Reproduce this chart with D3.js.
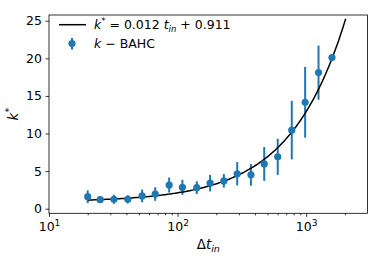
<!DOCTYPE html>
<html>
<head>
<meta charset="utf-8">
<script src="https://cdn.jsdelivr.net/npm/d3@7"></script>
<style>
  body { margin: 0; background: #fff; }
  text { font-family: "DejaVu Sans", sans-serif; fill: #000; }
</style>
</head>
<body>
<svg id="chart"></svg>
<script>
const W = 374, H = 259;
const margin = { top: 15, right: 6.5, bottom: 45.7, left: 49 };

// data
const dt = [20, 25, 32, 41, 53, 67, 86, 109, 141, 179, 229, 291, 372, 472, 601, 773, 982, 1248, 1588];
const kVal = [1.6, 1.2, 1.25, 1.25, 1.7, 1.95, 3.15, 2.85, 2.8, 3.4, 3.7, 4.65, 4.5, 5.95, 6.9, 10.45, 14.15, 18.1, 20.1];
const kErr = [0.85, 0.4, 0.6, 0.55, 0.85, 0.9, 1.0, 1.0, 0.85, 1.1, 0.9, 1.55, 1.45, 2.25, 2.4, 3.9, 4.7, 3.6, 0];
const fitSlope = 0.012, fitIntercept = 0.911;
const fitRange = [20, 2030];
const yTicks = [0, 5, 10, 15, 20, 25];
const xTicks = [10, 100, 1000];
const xDomain = [10, 3000];
const yDomain = [-0.61, 25.76];

const blue = "#1f77b4";

const svg = d3.select("#chart")
    .attr("width", W)
    .attr("height", H);

const x = d3.scaleLog()
    .domain(xDomain)
    .range([margin.left, W - margin.right]);

const y = d3.scaleLinear()
    .domain(yDomain)
    .range([H - margin.bottom, margin.top]);

// fit line, sampled evenly in log space
const fitPts = d3.range(0, 201).map(i => {
    const lx = Math.log10(fitRange[0]) + (Math.log10(fitRange[1]) - Math.log10(fitRange[0])) * i / 200;
    const t = Math.pow(10, lx);
    return [t, fitSlope * t + fitIntercept];
});

const plot = svg.append("g");

// error bars
plot.selectAll("line.err")
    .data(dt)
    .join("line")
    .attr("class", "err")
    .attr("x1", d => x(d))
    .attr("x2", d => x(d))
    .attr("y1", (d, i) => y(kVal[i] - kErr[i]))
    .attr("y2", (d, i) => y(kVal[i] + kErr[i]))
    .attr("stroke", blue)
    .attr("stroke-width", 2);

plot.append("path")
    .datum(fitPts)
    .attr("d", d3.line().x(d => x(d[0])).y(d => y(d[1])))
    .attr("fill", "none")
    .attr("stroke", "#000")
    .attr("stroke-width", 1.5);

plot.selectAll("circle.pt")
    .data(dt)
    .join("circle")
    .attr("class", "pt")
    .attr("cx", d => x(d))
    .attr("cy", (d, i) => y(kVal[i]))
    .attr("r", 3.6)
    .attr("fill", blue);

// axes
const xAxis = svg.append("g")
    .attr("transform", `translate(0,${H - margin.bottom})`)
    .call(d3.axisBottom(x).tickValues(xTicks).tickSize(3.5).tickPadding(3).tickFormat(""));

// minor ticks
const minor = [];
[10, 100, 1000].forEach(dec => { for (let m = 2; m <= 9; m++) if (dec * m < xDomain[1]) minor.push(dec * m); });
svg.append("g")
    .attr("transform", `translate(0,${H - margin.bottom})`)
    .call(d3.axisBottom(x).tickValues(minor).tickSize(2).tickFormat(""))
    .call(g => g.select(".domain").remove());

xAxis.selectAll(".tick").append("text")
    .attr("y", 17.5)
    .attr("text-anchor", "middle")
    .attr("font-size", 12.5)
    .each(function(d) {
        const t = d3.select(this);
        t.append("tspan").text("10");
        t.append("tspan").attr("dy", -5).attr("font-size", 9).text(Math.round(Math.log10(d)));
    });

const yAxis = svg.append("g")
    .attr("transform", `translate(${margin.left},0)`)
    .call(d3.axisLeft(y).tickValues(yTicks).tickSize(3.5).tickPadding(3.5));
yAxis.selectAll(".tick text").attr("font-size", 12.5).attr("font-family", "DejaVu Sans");

svg.selectAll(".domain").remove();
svg.selectAll(".tick line").attr("stroke", "#000").attr("stroke-width", 0.8);

// frame
svg.append("rect")
    .attr("x", margin.left)
    .attr("y", margin.top)
    .attr("width", W - margin.left - margin.right)
    .attr("height", H - margin.top - margin.bottom)
    .attr("fill", "none")
    .attr("stroke", "#000")
    .attr("stroke-width", 0.8);

// axis labels
const xl = svg.append("text")
    .attr("x", (margin.left + W - margin.right) / 2)
    .attr("y", 249)
    .attr("text-anchor", "middle")
    .attr("font-size", 13.5);
xl.append("tspan").text("Δ");
xl.append("tspan").attr("font-style", "italic").text("t");
xl.append("tspan").attr("font-style", "italic").attr("font-size", 9.5).attr("dy", 3).text("in");

const yl = svg.append("text")
    .attr("transform", `translate(18,${(margin.top + H - margin.bottom) / 2}) rotate(-90)`)
    .attr("text-anchor", "middle")
    .attr("font-size", 13.5);
yl.append("tspan").attr("font-style", "italic").text("k");
yl.append("tspan").attr("font-size", 9.5).attr("dy", -6).text("*");

// legend
const lg = svg.append("g");
lg.append("line")
    .attr("x1", 59).attr("x2", 86)
    .attr("y1", 24.7).attr("y2", 24.7)
    .attr("stroke", "#000").attr("stroke-width", 1.5);
const t1 = lg.append("text").attr("x", 94).attr("y", 29.3).attr("font-size", 12.5);
t1.append("tspan").attr("font-style", "italic").text("k");
t1.append("tspan").attr("font-size", 8.5).attr("dy", -5).text("*");
t1.append("tspan").attr("dy", 5).text(" = 0.012 ");
t1.append("tspan").attr("font-style", "italic").text("t");
t1.append("tspan").attr("font-style", "italic").attr("font-size", 8.5).attr("dy", 2.5).text("in");
t1.append("tspan").attr("dy", -2.5).text(" + 0.911");

lg.append("line")
    .attr("x1", 72).attr("x2", 72)
    .attr("y1", 38).attr("y2", 49.5)
    .attr("stroke", blue).attr("stroke-width", 2);
lg.append("circle").attr("cx", 72).attr("cy", 43.5).attr("r", 3.6).attr("fill", blue);
const t2 = lg.append("text").attr("x", 94).attr("y", 48).attr("font-size", 12.5);
t2.append("tspan").attr("font-style", "italic").text("k");
t2.append("tspan").text(" − BAHC");
</script>
</body>
</html>
